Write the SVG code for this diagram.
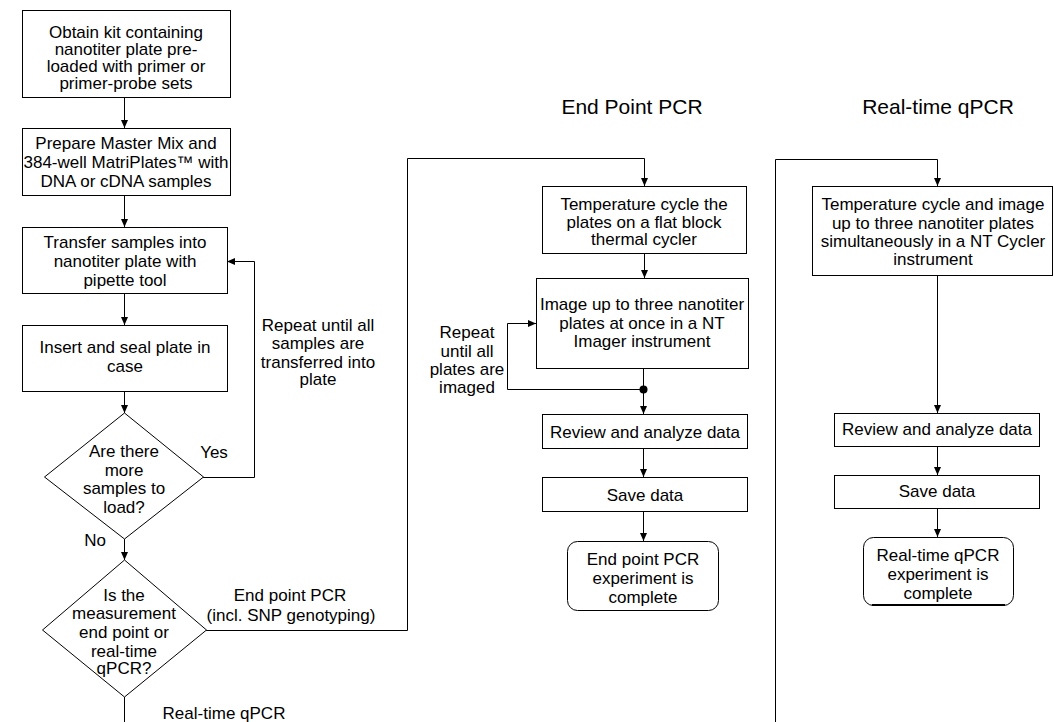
<svg xmlns="http://www.w3.org/2000/svg" width="1054" height="722" viewBox="0 0 1054 722">
<defs>
<marker id="ah" markerUnits="userSpaceOnUse" markerWidth="8" markerHeight="8" refX="8" refY="4" orient="auto">
<path d="M0,0.5 L8,4 L0,7.5 z" fill="#000"/>
</marker>
<style>
.box{fill:#fff;stroke:#000;stroke-width:1}
.t{font-family:"Liberation Sans",Arial,sans-serif;font-size:17px;fill:#000;text-anchor:middle}
.title{font-family:"Liberation Sans",Arial,sans-serif;font-size:21px;fill:#000;text-anchor:middle}
.c{fill:none;stroke:#000;stroke-width:1}
.a{marker-end:url(#ah)}
</style>
</defs>
<rect width="1054" height="722" fill="#fff"/>
<g id="connectors">
<path class="c a" d="M124.5,97 V128"/>
<path class="c a" d="M124.5,195 V227"/>
<path class="c a" d="M124.5,293 V325"/>
<path class="c a" d="M124.5,391 V413"/>
<path class="c a" d="M203,477.5 H254.5 V261.5 H227"/>
<path class="c a" d="M124.5,539 V560"/>
<path class="c a" d="M206,630.5 H407.5 V158.5 H644.5 V186"/>
<path class="c" d="M124.5,697 V722"/>
<path class="c a" d="M775.5,722 V159.5 H937.5 V186"/>
<path class="c a" d="M644.5,253 V278"/>
<path class="c" d="M643.5,368 V389"/>
<circle cx="643.5" cy="389.5" r="4" fill="#000"/>
<path class="c a" d="M643.5,389 V414"/>
<path class="c a" d="M643.5,389.5 H507.5 V323.5 H536"/>
<path class="c a" d="M643.5,448 V477"/>
<path class="c a" d="M643.5,511 V541"/>
<path class="c a" d="M937.5,275 V413"/>
<path class="c a" d="M937.5,446 V475"/>
<path class="c a" d="M937.5,508 V537"/>
</g>
<g id="labels">
<text class="t" x="214" y="458">Yes</text>
<text class="t" x="95" y="546">No</text>
<text class="t" x="318" y="331">Repeat until all</text>
<text class="t" x="318" y="349">samples are</text>
<text class="t" x="318" y="368">transferred into</text>
<text class="t" x="318" y="385">plate</text>
<text class="t" x="290" y="601">End point PCR</text>
<text class="t" x="291" y="621">(incl. SNP genotyping)</text>
<text class="t" x="224" y="719">Real-time qPCR</text>
<text class="t" x="467" y="338">Repeat</text>
<text class="t" x="467" y="357">until all</text>
<text class="t" x="467" y="375">plates are</text>
<text class="t" x="467" y="393">imaged</text>
<text class="title" x="632" y="114">End Point PCR</text>
<text class="title" x="938" y="114">Real-time qPCR</text>
</g>
<g id="n1">
<rect class="box" x="22.5" y="10.5" width="208" height="87"/>
<text class="t" x="126" y="38">Obtain kit containing</text>
<text class="t" x="126" y="55">nanotiter plate pre-</text>
<text class="t" x="126" y="72">loaded with primer or</text>
<text class="t" x="126" y="89">primer-probe sets</text>
</g>
<g id="n2">
<rect class="box" x="22.5" y="128.5" width="208" height="67"/>
<text class="t" x="126" y="149">Prepare Master Mix and</text>
<text class="t" x="126" y="168">384-well MatriPlates™ with</text>
<text class="t" x="126" y="187">DNA or cDNA samples</text>
</g>
<g id="n3">
<rect class="box" x="22.5" y="227.5" width="205" height="66"/>
<text class="t" x="125" y="248">Transfer samples into</text>
<text class="t" x="125" y="267">nanotiter plate with</text>
<text class="t" x="125" y="286">pipette tool</text>
</g>
<g id="n4">
<rect class="box" x="22.5" y="325.5" width="205" height="66"/>
<text class="t" x="125" y="353">Insert and seal plate in</text>
<text class="t" x="125" y="372">case</text>
</g>
<g id="d1">
<polygon class="box" points="124.5,413 203.5,477 124.5,539 44.5,477"/>
<text class="t" x="124" y="457">Are there</text>
<text class="t" x="124" y="475.5">more</text>
<text class="t" x="124" y="494">samples to</text>
<text class="t" x="124" y="512.5">load?</text>
</g>
<g id="d2">
<polygon class="box" points="124.5,560 206.5,630 124.5,697 42.5,630"/>
<text class="t" x="124" y="601">Is the</text>
<text class="t" x="124" y="619">measurement</text>
<text class="t" x="124" y="638">end point or</text>
<text class="t" x="124" y="657">real-time</text>
<text class="t" x="124" y="674">qPCR?</text>
</g>
<g id="ep1">
<rect class="box" x="542.5" y="186.5" width="204" height="67"/>
<text class="t" x="644" y="210">Temperature cycle the</text>
<text class="t" x="644" y="228">plates on a flat block</text>
<text class="t" x="644" y="245">thermal cycler</text>
</g>
<g id="ep2">
<rect class="box" x="536.5" y="278.5" width="212" height="90"/>
<text class="t" x="642" y="310">Image up to three nanotiter</text>
<text class="t" x="642" y="329">plates at once in a NT</text>
<text class="t" x="642" y="347">Imager instrument</text>
</g>
<g id="ep3">
<rect class="box" x="542.5" y="414.5" width="205" height="34"/>
<text class="t" x="645" y="438">Review and analyze data</text>
</g>
<g id="ep4">
<rect class="box" x="542.5" y="477.5" width="205" height="34"/>
<text class="t" x="645" y="501">Save data</text>
</g>
<g id="ep5">
<rect class="box" x="567.5" y="541.5" width="151" height="69" rx="10"/>
<text class="t" x="643" y="565">End point PCR</text>
<text class="t" x="643" y="584">experiment is</text>
<text class="t" x="643" y="603">complete</text>
</g>
<g id="rt1">
<rect class="box" x="812.5" y="186.5" width="240" height="89"/>
<text class="t" x="933" y="210">Temperature cycle and image</text>
<text class="t" x="933" y="229">up to three nanotiter plates</text>
<text class="t" x="933" y="247">simultaneously in a NT Cycler</text>
<text class="t" x="933" y="265">instrument</text>
</g>
<g id="rt2">
<rect class="box" x="834.5" y="413.5" width="205" height="33"/>
<text class="t" x="937" y="435">Review and analyze data</text>
</g>
<g id="rt3">
<rect class="box" x="834.5" y="475.5" width="205" height="33"/>
<text class="t" x="937" y="497">Save data</text>
</g>
<g id="rt4">
<rect class="box" x="863.5" y="537.5" width="150" height="68" rx="10"/>
<path d="M872,605 H1005" stroke="#000" stroke-width="2" fill="none"/>
<text class="t" x="938" y="561">Real-time qPCR</text>
<text class="t" x="938" y="580">experiment is</text>
<text class="t" x="938" y="599">complete</text>
</g>
</svg>
